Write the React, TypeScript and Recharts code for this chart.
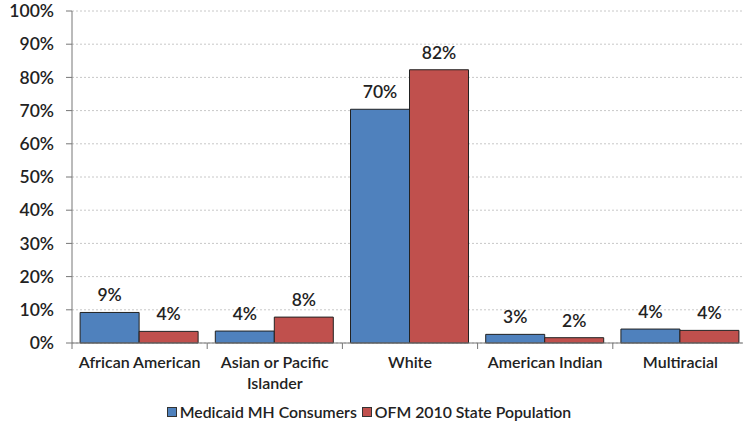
import { Bar, BarChart, CartesianGrid, LabelList, Legend, Text, XAxis, YAxis } from 'recharts'

const categories = ['African American', 'Asian or Pacific Islander', 'White', 'American Indian', 'Multiracial']
const medicaidValues = [9.2, 3.6, 70.4, 2.6, 4.2]
const populationValues = [3.5, 7.8, 82.3, 1.6, 3.8]
const seriesNames = ['Medicaid MH Consumers', 'OFM 2010 State Population']
const seriesColors = ['#4F81BD', '#C0504D']
const yTicks = [0, 10, 20, 30, 40, 50, 60, 70, 80, 90, 100]

const CHART_W = 748
const CHART_H = 425
const AXIS_W = 72
const BAND = (CHART_W - AXIS_W) / categories.length
const FONT = 'Lato, "Open Sans", sans-serif'

const data = categories.map((name, i) => ({
  name,
  medicaid: medicaidValues[i],
  population: populationValues[i],
}))

function CategoryTick(props: any) {
  const { x, y, payload, index } = props
  const last = index === categories.length - 1
  return (
    <g>
      <line x1={x - BAND / 2} x2={x - BAND / 2} y1={y} y2={y + 6} stroke="#777" />
      {last && <line x1={x + BAND / 2} x2={x + BAND / 2} y1={y} y2={y + 6} stroke="#777" />}
      <Text
        x={x}
        y={y + 14}
        width={130}
        textAnchor="middle"
        verticalAnchor="start"
        lineHeight={21}
        fontSize={16}
        fontWeight={600}
        fill="#222"
        fontFamily={FONT}
      >
        {payload.value}
      </Text>
    </g>
  )
}

function PercentLabel(props: any) {
  const { x, y, width, value } = props
  return (
    <text
      x={x + width / 2}
      y={y - 11}
      textAnchor="middle"
      fontSize={17.5}
      fontWeight={600}
      fill="#222"
      fontFamily={FONT}
    >
      {Math.round(value)}%
    </text>
  )
}

function LegendContent() {
  return (
    <div
      style={{
        display: 'flex',
        justifyContent: 'center',
        gap: 5,
        fontFamily: FONT,
        fontSize: 15.8,
        fontWeight: 600,
        color: '#222',
        marginLeft: -10,
      }}
    >
      {seriesNames.map((name, i) => (
        <span key={name} style={{ display: 'flex', alignItems: 'center' }}>
          <span
            style={{
              width: 8,
              height: 8,
              background: seriesColors[i],
              border: '1px solid #333',
              marginRight: 3,
            }}
          />
          {name}
        </span>
      ))}
    </div>
  )
}

export default function App() {
  return (
    <div style={{ position: 'absolute', left: 0, top: 0, width: 743, height: 425, overflow: 'hidden', background: '#fff' }}>
      <BarChart
        width={CHART_W}
        height={CHART_H}
        data={data}
        margin={{ top: 11, right: 0, bottom: 0, left: 0 }}
        barCategoryGap="6%"
        barGap={0}
      >
        <CartesianGrid vertical={false} stroke="#c8c8c8" strokeDasharray="2 2" />
        <XAxis
          dataKey="name"
          interval={0}
          height={59}
          tickSize={0}
          tickMargin={0}
          tick={<CategoryTick />}
          axisLine={{ stroke: '#777' }}
          tickLine={false}
        />
        <YAxis
          width={AXIS_W}
          domain={[0, 100]}
          ticks={yTicks}
          tickFormatter={(v: number) => `${v}%`}
          tickSize={6}
          tickMargin={12}
          axisLine={{ stroke: '#777' }}
          tickLine={{ stroke: '#777' }}
          tick={{ fontSize: 17.5, fontWeight: 600, fill: '#222', fontFamily: FONT }}
        />
        <Legend verticalAlign="bottom" height={23} content={<LegendContent />} />
        <Bar dataKey="medicaid" name={seriesNames[0]} fill={seriesColors[0]} stroke="#222" strokeWidth={1} isAnimationActive={false}>
          <LabelList dataKey="medicaid" content={<PercentLabel />} />
        </Bar>
        <Bar dataKey="population" name={seriesNames[1]} fill={seriesColors[1]} stroke="#222" strokeWidth={1} isAnimationActive={false}>
          <LabelList dataKey="population" content={<PercentLabel />} />
        </Bar>
      </BarChart>
    </div>
  )
}
